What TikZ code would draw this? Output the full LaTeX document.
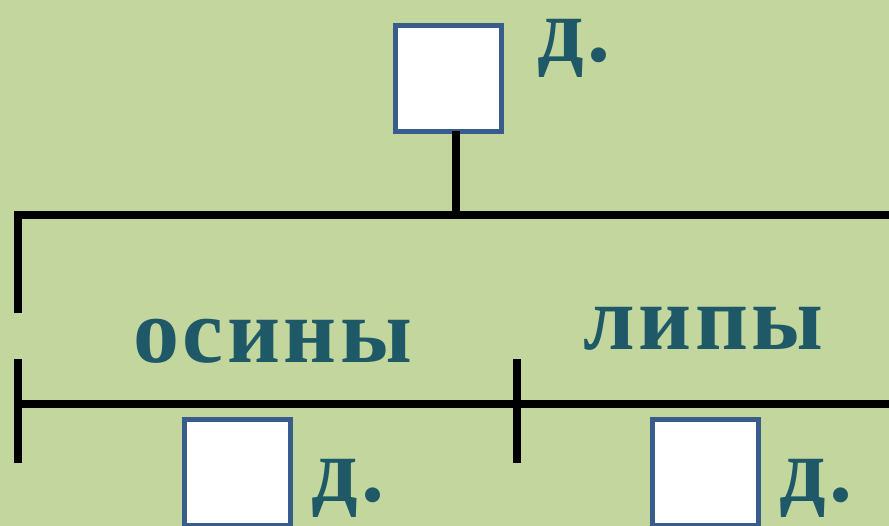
\documentclass[tikz,border=0pt]{standalone}
\usepackage{fontspec}
\setmainfont{Liberation Serif}
\newfontfamily\lblfont[LetterSpace=4]{Liberation Serif}
\definecolor{bg}{RGB}{195,214,158}
\definecolor{txt}{RGB}{31,89,103}
\definecolor{boxline}{RGB}{56,93,138}
\begin{document}
\begin{tikzpicture}[x=1pt,y=-1pt,
  sq/.style={draw=boxline,line width=5pt,fill=white,minimum size=106pt,inner sep=0pt},
  lbl/.style={anchor=base west,inner sep=0pt,text=txt,text height=50pt,text depth=12pt,font=\lblfont\bfseries\fontsize{92}{100}\selectfont},
  bar/.style={line width=8pt,black}]
\fill[bg] (0,0) rectangle (889,526);
\useasboundingbox (0,0) rectangle (889,526);
% boxes
\node[sq] (top) at (448.5,78.5) {};
\node[sq] (bl) at (237,472.5) {};
\node[sq] (br) at (705.5,472.5) {};
% labels
\node[lbl] (dtop) at (537,62) {д.};
\node[lbl] (dbl) at (311,501) {д.};
\node[lbl] (dbr) at (779,501) {д.};
\node[lbl] (osiny) at (133,363) {осины};
\node[lbl] (lipy) at (583,350) {липы};
% lines
\coordinate (stemtop) at (456,131);
\coordinate (j) at (456,215);
\coordinate (lt) at (18,215);
\coordinate (lb) at (18,313);
\coordinate (re) at (895,215);
\draw[bar] (stemtop) -- (j);
\draw[bar] (lb) -- (lt) -- (re);
\coordinate (l2t) at (18,359);
\coordinate (l2b) at (18,463);
\coordinate (l2m) at (18,404);
\coordinate (r2) at (895,404);
\coordinate (mt) at (517,359);
\coordinate (mb) at (517,463);
\draw[bar] (l2t) -- (l2b);
\draw[bar] (l2m) -- (r2);
\draw[bar] (mt) -- (mb);
\end{tikzpicture}
\end{document}
